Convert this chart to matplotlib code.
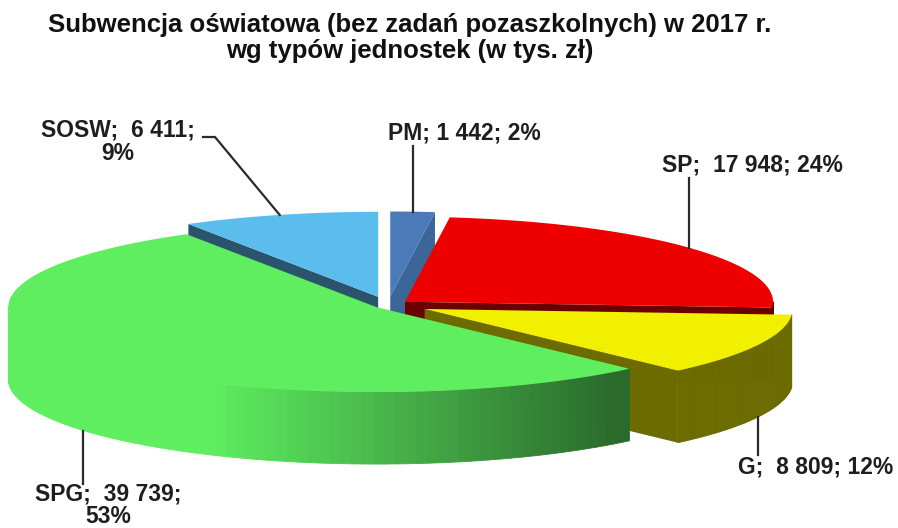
import numpy as np
import matplotlib
matplotlib.use('Agg')
import matplotlib.pyplot as plt
from matplotlib.colors import to_rgb

# dane: subwencja oświatowa 2017 (tys. zł)
kategorie = ['PM', 'SP', 'G', 'SPG', 'SOSW']
wartosci = [1442, 17948, 8809, 39739, 6411]
procenty = [2, 24, 12, 53, 9]
etykiety = ['PM; 1 442; 2%', 'SP;  17 948; 24%', 'G;  8 809; 12%',
            'SPG;  39 739;\n53%', 'SOSW;  6 411;\n9%']

kolory_gora = ['#4a7ab8', '#ee0000', '#f0f000', '#5eee60', '#5bbcee']
kolory_bok = ['#3b6697', '#6b0000', '#6b6b00', '#2a6a2c', '#2a546c']
wysuniecie = [0.10, 0.06, 0.11, 0.04, 0.10]

# geometria "3D" (elipsa w pikselach)
cx, cy = 388, 305
a, b = 368, 85
glebokosc = 72

fig = plt.figure(figsize=(8.98, 5.28), dpi=100)
ax = fig.add_axes([0, 0, 1, 1])
ax.set_xlim(0, 898)
ax.set_ylim(528, 0)
ax.axis('off')

suma = sum(wartosci)
cum = np.concatenate([[0], np.cumsum(wartosci)]) / suma
t1s = 90 - 360 * cum[:-1]   # krawedz przeciwna do wskazowek
t2s = 90 - 360 * cum[1:]    # krawedz zgodna ze wskazowkami


def punkt(t, r, off, dz=0):
    t = np.radians(t)
    return cx + off[0] + a * r * np.cos(t), cy + off[1] - b * r * np.sin(t) + dz


def mieszaj(c1, c2, f):
    c1, c2 = np.array(to_rgb(c1)), np.array(to_rgb(c2))
    return tuple(c1 * (1 - f) + c2 * f)


kolejnosc = np.argsort([-np.sin(np.radians((t1 + t2) / 2)) for t1, t2 in zip(t1s, t2s)])
kotwice = {}

for i in kolejnosc:
    t1, t2 = t1s[i], t2s[i]
    mid = (t1 + t2) / 2
    m = np.radians(mid)
    off = (wysuniecie[i] * a * np.cos(m), -wysuniecie[i] * b * np.sin(m))
    tip = punkt(0, 0, off)

    # sciany promieniowe
    for t, znak in [(t1, -1), (t2, 1)]:
        tr = np.radians(t)
        ny = -znak * np.cos(tr)  # skladowa normalnej w glab
        if ny < -1e-3:
            e = punkt(t, 1, off)
            xs = [tip[0], e[0], e[0], tip[0]]
            ys = [tip[1], e[1], e[1] + glebokosc, tip[1] + glebokosc]
            ax.fill(xs, ys, color=kolory_bok[i], lw=0)

    # bok zewnetrzny (przednia polowa)
    lo, hi = max(t2, -180), min(t1, 0)
    if lo < hi:
        kat = np.linspace(lo, hi, 80)
        for k in range(len(kat) - 1):
            p1 = punkt(kat[k], 1, off)
            p2 = punkt(kat[k + 1], 1, off)
            c = np.cos(np.radians((kat[k] + kat[k + 1]) / 2))
            f = np.clip((c + 0.45) / 1.1, 0, 1)
            kol = mieszaj(kolory_gora[i], kolory_bok[i], f)
            ax.fill([p1[0], p2[0], p2[0], p1[0]],
                    [p1[1], p2[1], p2[1] + glebokosc, p1[1] + glebokosc],
                    color=kol, lw=0.6, ec=kol)

    # wierzch
    kat = np.linspace(t1, t2, 120)
    xs, ys = punkt(kat, 1, off)
    ax.fill(np.concatenate([[tip[0]], xs]), np.concatenate([[tip[1]], ys]),
            color=kolory_gora[i], lw=0)

    if np.sin(m) > 0:
        kotwice[i] = punkt(mid, 1, off)
    else:
        kotwice[i] = punkt(mid, 1, off, glebokosc)

# etykiety
styl = dict(fontsize=16.5, fontweight='bold', color='#1e1e1e', family='Liberation Sans')
lc = dict(color='#2a2a2a', lw=1.6)

x, y = kotwice[0]
ax.plot([x, x], [y, 146], **lc)
ax.text(388, 133, etykiety[0], ha='left', va='center', **styl)

x, y = kotwice[1]
ax.plot([x, x], [y, 178], **lc)
ax.text(662, 165, etykiety[1], ha='left', va='center', **styl)

x, y = kotwice[2]
ax.plot([x, x], [y, 455], **lc)
ax.text(738, 467, etykiety[2], ha='left', va='center', **styl)

x, y = kotwice[3]
ax.plot([x, x], [y, 484], **lc)
ax.text(108, 505, etykiety[3], ha='center', va='center', linespacing=1.0, **styl)

x, y = kotwice[4]
ax.plot([x, 215, 203], [y, 137, 137], **lc)
ax.text(118, 142, etykiety[4], ha='center', va='center', linespacing=1.05, **styl)

ax.text(410, 38, 'Subwencja oświatowa (bez zadań pozaszkolnych) w 2017 r.\nwg typów jednostek (w tys. zł)',
        ha='center', va='center', fontsize=18.5, fontweight='bold', color='#111111',
        family='Liberation Sans', linespacing=1.12)

fig.savefig('out.png', dpi=100)
